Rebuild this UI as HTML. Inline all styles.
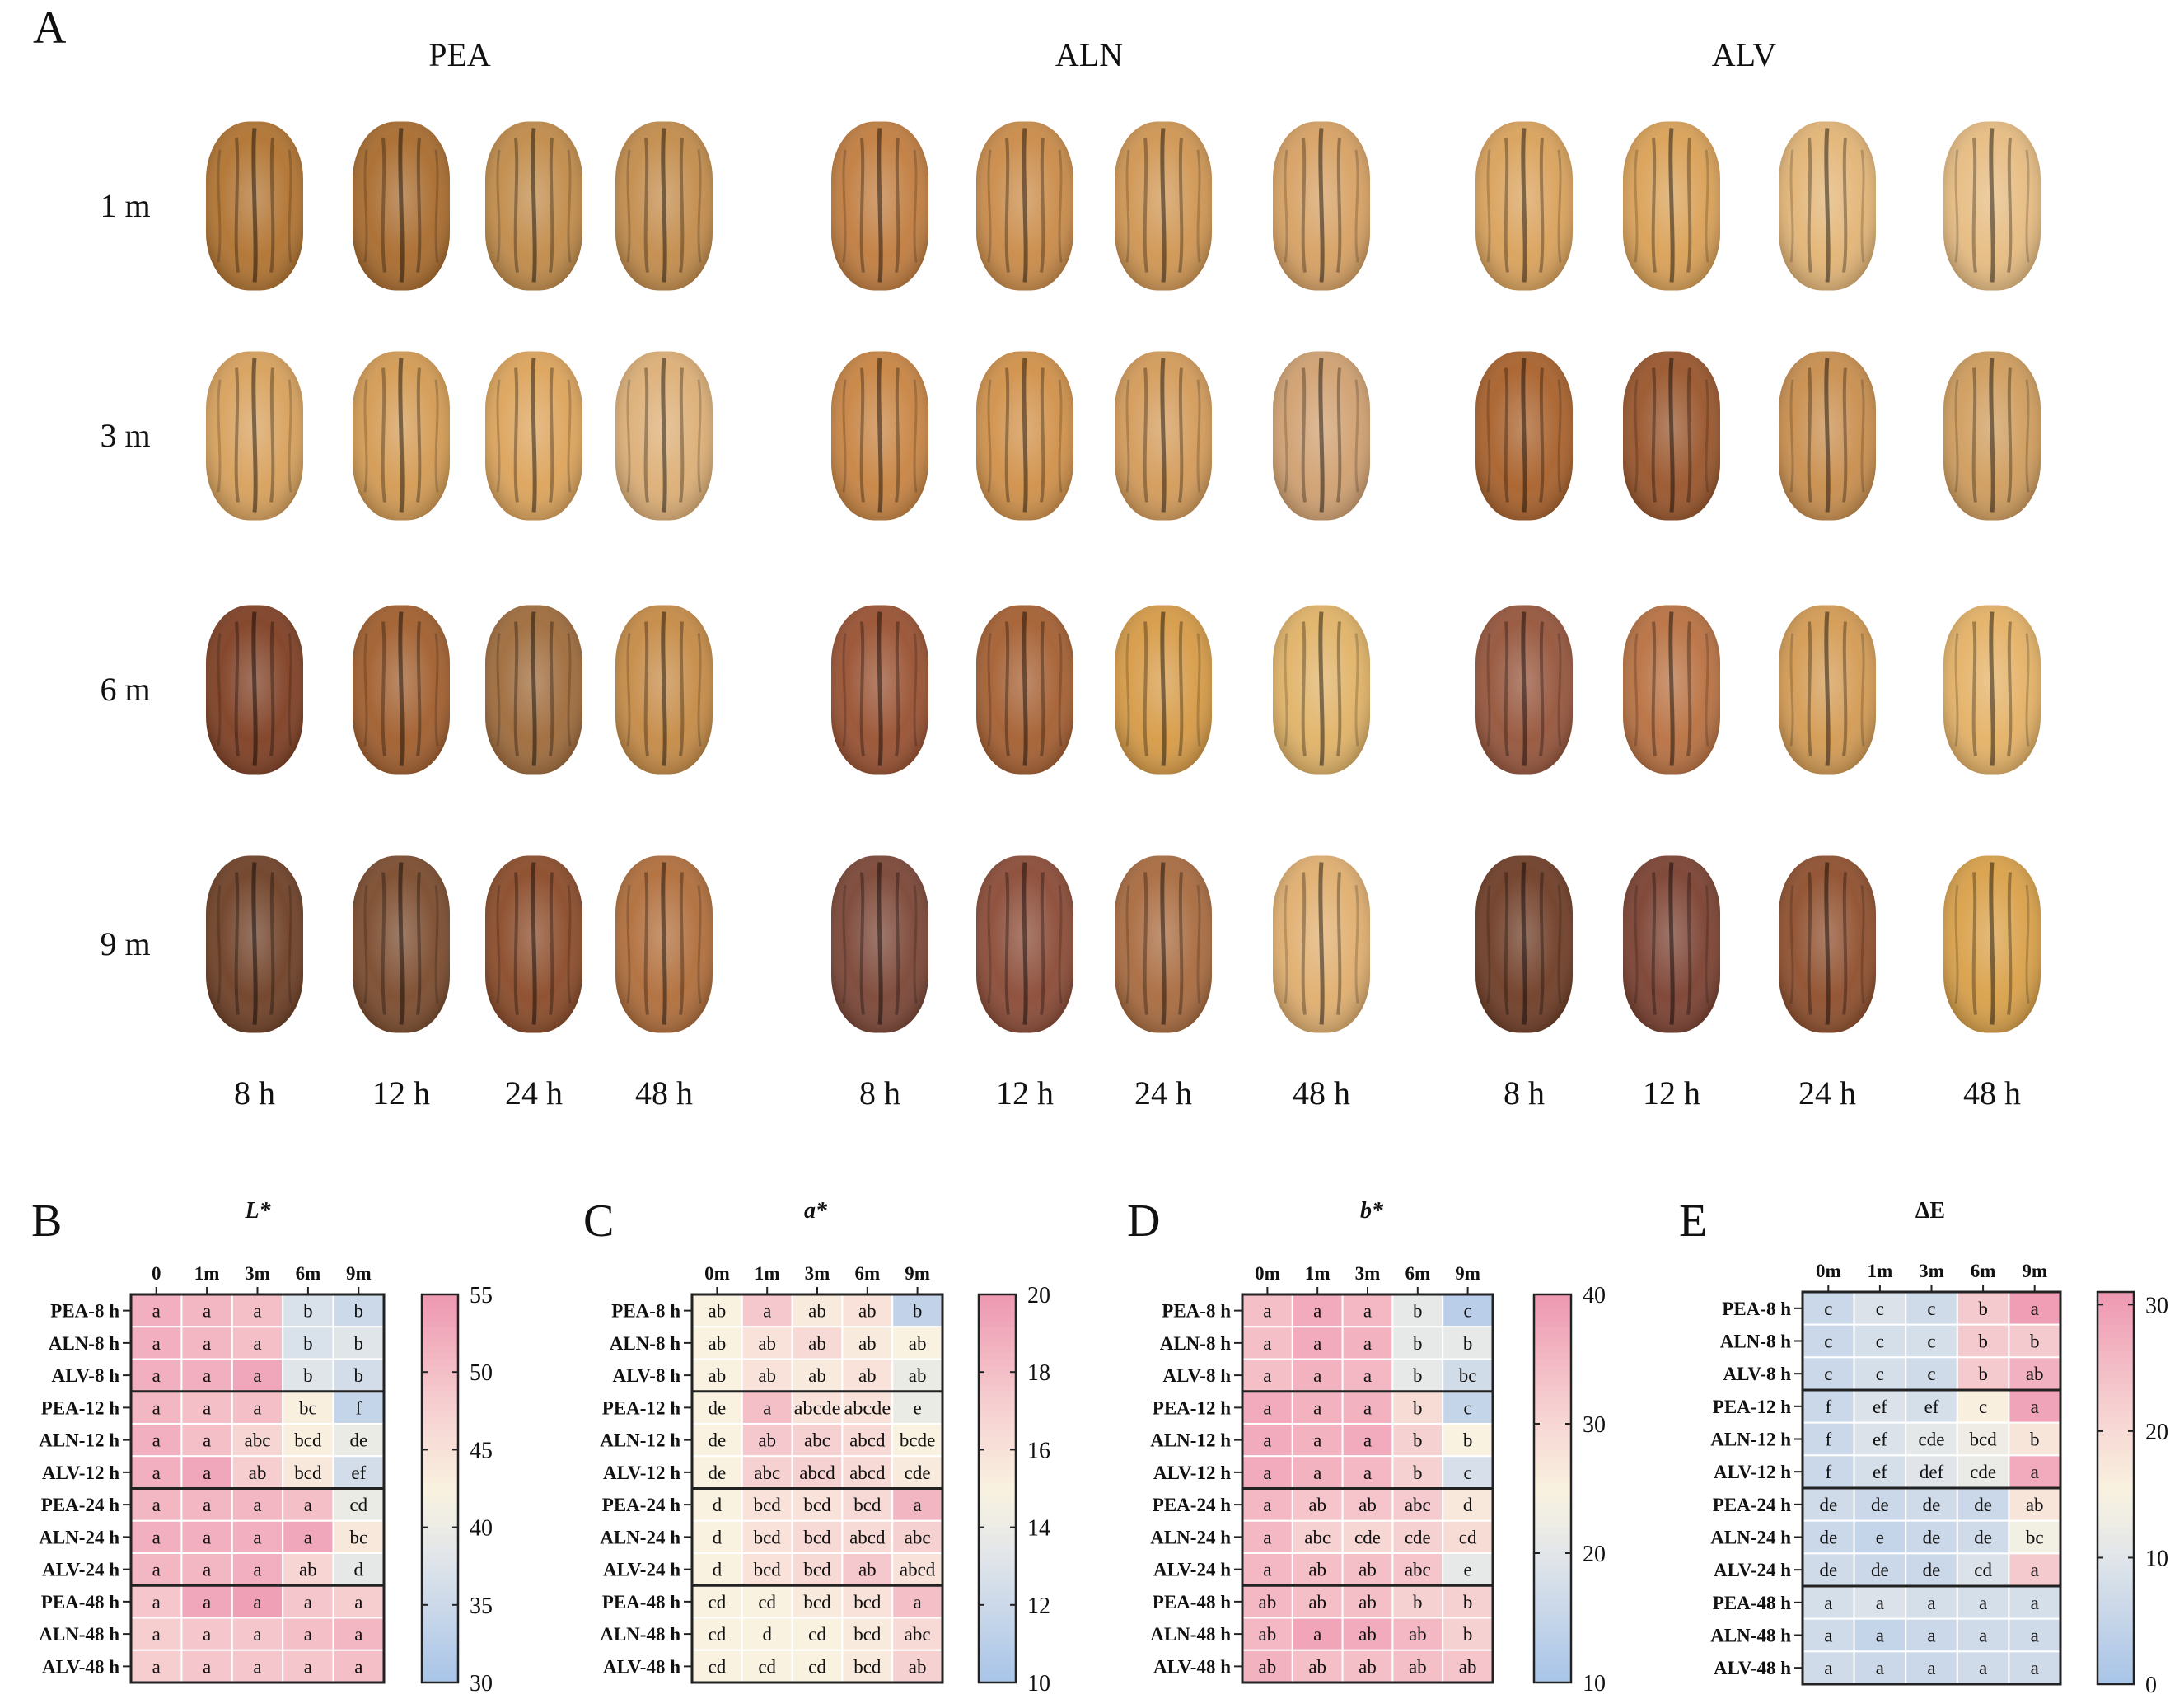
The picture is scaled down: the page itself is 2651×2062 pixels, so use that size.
<!DOCTYPE html>
<html><head><meta charset="utf-8"><style>
html,body{margin:0;padding:0;background:#fff}
svg{display:block}
text{font-family:"Liberation Serif",serif;fill:#111}
</style></head><body>
<svg id="fig" width="2651" height="2062" viewBox="0 0 2651 2062" xmlns="http://www.w3.org/2000/svg">
<defs>
<radialGradient id="shine" cx="50%" cy="45%" r="60%">
<stop offset="0" stop-color="#fff" stop-opacity="0.28"/>
<stop offset="0.6" stop-color="#fff" stop-opacity="0.05"/>
<stop offset="1" stop-color="#000" stop-opacity="0.25"/>
</radialGradient>
</defs>
<g id="panelA"></g>
<g id="heat"></g>
</svg>
<script>
const NS='http://www.w3.org/2000/svg';
const svg=document.getElementById('fig');
const gA=document.getElementById('panelA');
const gH=document.getElementById('heat');
function mk(tag,attrs,parent,txt){const e=document.createElementNS(NS,tag);for(const k in attrs)e.setAttribute(k,attrs[k]);if(txt!==undefined)e.textContent=txt;(parent||svg).appendChild(e);return e;}

// ---------- Panel A ----------
const groups=['PEA','ALN','ALV'];
const groupX=[558,1322,2117];
const storage=['1 m','3 m','6 m','9 m'];
const rowY=[250,529,837,1146];
const hours=['8 h','12 h','24 h','48 h'];
const colX=[309,487,648,806,1068,1244,1412,1604,1850,2029,2218,2418];
const nutColors=[
['#b0722f','#a86a2c','#c08a48','#c28b4a','#c07c3e','#c98a47','#cf9551','#d6a062','#d9a15a','#d9a055','#e2b475','#e6bb80'],
['#d7a05b','#d39a52','#dca35a','#dcae75','#c78341','#d09048','#d39a58','#d0a070','#a8602a','#98542a','#c88d4c','#cf9c5c'],
['#7e3e22','#a05d2c','#9e6a3a','#c58a45','#985030','#a45e30','#d69a45','#e0b266','#95543a','#b87040','#d39a52','#e4b165'],
['#6e3f25','#7a4a2c','#8a4a28','#b06d3a','#7a4535','#8a4a35','#a86a3e','#e0ae6e','#6e3c25','#7a4030','#8e4e2c','#d9a048']];

let t=mk('text',{x:40,y:52,'font-size':56},gA,'A');

groups.forEach((g,i)=>{const e=mk('text',{x:groupX[i],y:80,'font-size':40,'text-anchor':'middle'},gA,g);
});
storage.forEach((s,i)=>{const e=mk('text',{x:152,y:rowY[i]+13,'font-size':40,'text-anchor':'middle'},gA,s);
});
colX.forEach((x,i)=>{const e=mk('text',{x:x,y:1340,'font-size':40,'text-anchor':'middle'},gA,hours[i%4]);
});
rowY.forEach((y,r)=>colX.forEach((x,c)=>{
  const w=118,h=(r===3?215:205);
  const g=mk('g',{transform:`translate(${x},${y})`},gA);
  
  mk('rect',{x:-w/2,y:-h/2,width:w,height:h,rx:52,ry:70,fill:nutColors[r][c]},g);
  mk('rect',{x:-w/2,y:-h/2,width:w,height:h,rx:52,ry:70,fill:'url(#shine)'},g);
  mk('path',{d:`M0 ${-h/2+8} C -4 ${-h/4} 4 ${h/4} 0 ${h/2-10}`,stroke:'#000','stroke-opacity':0.45,'stroke-width':5,fill:'none'},g);
  [-1,1].forEach(s=>{
    mk('path',{d:`M${s*22} ${-h/2+20} C ${s*18} ${-h/5} ${s*26} ${h/5} ${s*20} ${h/2-22}`,stroke:'#000','stroke-opacity':0.3,'stroke-width':4,fill:'none'},g);
    mk('path',{d:`M${s*42} ${-h/3} C ${s*48} ${-h/8} ${s*38} ${h/8} ${s*44} ${h/3}`,stroke:'#000','stroke-opacity':0.18,'stroke-width':3,fill:'none'},g);
  });
}));

// ---------- Heatmaps ----------
const rowLabels=['PEA-8 h','ALN-8 h','ALV-8 h','PEA-12 h','ALN-12 h','ALV-12 h','PEA-24 h','ALN-24 h','ALV-24 h','PEA-48 h','ALN-48 h','ALV-48 h'];
const colsB=['0','1m','3m','6m','9m'];
const colsOther=['0m','1m','3m','6m','9m'];

const valB=[[52,51,50,37,35],[52,51,50,37,38],[52,52,53,38,36],[51,50,50,43,34],[52,50,47,43,40],[52,53,48,44,36],[51,51,51,50,40],[52,52,52,53,44],[51,51,52,47,39],[49,53,54,49,48],[48,49,49,50,51],[48,49,49,49,50]];
const letB=[['a','a','a','b','b'],['a','a','a','b','b'],['a','a','a','b','b'],['a','a','a','bc','f'],['a','a','abc','bcd','de'],['a','a','ab','bcd','ef'],['a','a','a','a','cd'],['a','a','a','a','bc'],['a','a','a','ab','d'],['a','a','a','a','a'],['a','a','a','a','a'],['a','a','a','a','a']];
const ticksB=[30,35,40,45,50,55];

const valC=[[15,17.5,15.5,16,11.5],[15,16,16.5,15.5,15],[15,16,15.5,16,14],[15,18,16,16,14],[15,17.5,17,16.5,15],[15,17,17,16.5,15.5],[15,16,16,16.5,18.5],[15,16,16.5,16.5,17],[15,16,16.5,17.5,16],[15,15,15.5,16,18],[15,15,15,15.5,16.5],[15,15,15,15.5,17]];
const letC=[['ab','a','ab','ab','b'],['ab','ab','ab','ab','ab'],['ab','ab','ab','ab','ab'],['de','a','abcde','abcde','e'],['de','ab','abc','abcd','bcde'],['de','abc','abcd','abcd','cde'],['d','bcd','bcd','bcd','a'],['d','bcd','bcd','abcd','abc'],['d','bcd','bcd','ab','abcd'],['cd','cd','bcd','bcd','a'],['cd','d','cd','bcd','abc'],['cd','cd','cd','bcd','ab']];
const ticksC=[10,12,14,16,18,20];

const valD=[[34,37,35,21,13],[34,37,36,21,21],[34,36,35,21,17],[37,36,36,29,15],[37,36,37,31,25],[37,36,35,31,18],[35,33,33,32,27],[35,31,30,31,29],[35,34,34,33,21],[35,34,34,31,31],[35,38,37,35,31],[36,34,34,34,33]];
const letD=[['a','a','a','b','c'],['a','a','a','b','b'],['a','a','a','b','bc'],['a','a','a','b','c'],['a','a','a','b','b'],['a','a','a','b','c'],['a','ab','ab','abc','d'],['a','abc','cde','cde','cd'],['a','ab','ab','abc','e'],['ab','ab','ab','b','b'],['ab','a','ab','ab','b'],['ab','ab','ab','ab','ab']];
const ticksD=[10,20,30,40];

const valE=[[6,9,7,23,30],[6,8,8,23,23],[6,8,7,23,27],[6,9,8,16,29],[6,9,11,13,18],[6,8,10,12,28],[7,6,7,6,18],[6,5,6,7,14],[7,6,6,9,23],[8,9,8,8,8],[7,5,6,7,7],[7,6,6,7,7]];
const letE=[['c','c','c','b','a'],['c','c','c','b','b'],['c','c','c','b','ab'],['f','ef','ef','c','a'],['f','ef','cde','bcd','b'],['f','ef','def','cde','a'],['de','de','de','de','ab'],['de','e','de','de','bc'],['de','de','de','cd','a'],['a','a','a','a','a'],['a','a','a','a','a'],['a','a','a','a','a']];
const ticksE=[0,10,20,30];

const stops=[[0,[168,196,232]],[0.33,[226,230,234]],[0.5,[249,242,224]],[0.72,[246,206,208]],[1,[238,152,178]]];
function cmap(t){t=Math.max(0,Math.min(1,t));for(let i=1;i<stops.length;i++){if(t<=stops[i][0]){const a=stops[i-1],b=stops[i];const f=(t-a[0])/(b[0]-a[0]);const c=a[1].map((v,k)=>Math.round(v+(b[1][k]-v)*f));return `rgb(${c})`;}}return 'rgb('+stops[4][1]+')';}

function heatmap(o){
  const g=mk('g',{},gH);
  
  const nr=o.vals.length,nc=o.cols.length;
  const cw=(o.x1-o.x0)/nc,ch=(o.y1-o.y0)/nr;
  const xs=j=>o.x0+cw*j, ys=i=>o.y0+ch*i;
  const norm=v=>(v-o.vmin)/(o.vmax-o.vmin);
  let e=mk('text',{x:o.lx,y:1500,'font-size':56},g,o.id.toUpperCase());
  
  e=mk('text',{x:o.tx,y:1478,'font-size':28,'font-weight':'bold','font-style':o.italic?'italic':'normal','text-anchor':'middle'},g,o.title);
  
  for(let i=0;i<nr;i++)for(let j=0;j<nc;j++){
    const r=mk('rect',{x:xs(j),y:ys(i),width:cw,height:ch,fill:cmap(norm(o.vals[i][j])),stroke:'#fff','stroke-width':2},g);
    
    const tx=mk('text',{x:xs(j)+cw/2,y:ys(i)+ch/2+8,'font-size':23,'text-anchor':'middle',textLength:(o.lets[i][j].length>4?cw-4:''),lengthAdjust:'spacingAndGlyphs'},g,o.lets[i][j]);
    if(o.lets[i][j].length<=4)tx.removeAttribute('textLength');
    
  }
  for(let k=3;k<nr;k+=3)mk('line',{x1:o.x0,x2:o.x1,y1:ys(k),y2:ys(k),stroke:'#222','stroke-width':3},g);
  mk('rect',{x:o.x0,y:o.y0,width:o.x1-o.x0,height:o.y1-o.y0,fill:'none',stroke:'#222','stroke-width':3},g);
  for(let j=0;j<nc;j++){
    const cx=xs(j)+cw/2;
    mk('line',{x1:cx,x2:cx,y1:o.y0-9,y2:o.y0,stroke:'#222','stroke-width':2},g);
    e=mk('text',{x:cx,y:o.y0-18,'font-size':23,'font-weight':'bold','text-anchor':'middle'},g,o.cols[j]);
    
  }
  for(let i=0;i<nr;i++){
    const cy=ys(i)+ch/2;
    mk('line',{x1:o.x0-10,x2:o.x0,y1:cy,y2:cy,stroke:'#222','stroke-width':2},g);
    e=mk('text',{x:o.x0-14,y:cy+8,'font-size':23,'font-weight':'bold','text-anchor':'end'},g,rowLabels[i]);
    
  }
  // colorbar
  const cb=mk('g',{},g);
  const N=60,ctop=o.y0,cbot=o.y1;
  const cy=v=>cbot-(v-o.vmin)/(o.vmax-o.vmin)*(cbot-ctop);
  for(let k=0;k<N;k++){const v0=o.vmin+(o.vmax-o.vmin)*k/N,v1=o.vmin+(o.vmax-o.vmin)*(k+1)/N;
    mk('rect',{x:o.cx0,y:cy(v1)-0.5,width:o.cx1-o.cx0,height:cy(v0)-cy(v1)+1,fill:cmap(norm((v0+v1)/2))},cb);}
  mk('rect',{x:o.cx0,y:ctop,width:o.cx1-o.cx0,height:cbot-ctop,fill:'none',stroke:'#222','stroke-width':2.5},cb);
  o.ticks.forEach(v=>{const y=cy(v);
    mk('line',{x1:o.cx0,x2:o.cx0+7,y1:y,y2:y,stroke:'#222','stroke-width':2},cb);
    mk('line',{x1:o.cx1-7,x2:o.cx1,y1:y,y2:y,stroke:'#222','stroke-width':2},cb);
    const tl=mk('text',{x:o.cx1+14,y:y+10,'font-size':28},cb,String(v));
    
  });
}
heatmap({id:'b',title:'L*',italic:true,lx:38,tx:313,x0:159,x1:466,y0:1571,y1:2042,cx0:512,cx1:556,vmin:30,vmax:55,ticks:ticksB,cols:colsB,vals:valB,lets:letB});
heatmap({id:'c',title:'a*',italic:true,lx:708,tx:990,x0:840,x1:1144,y0:1571,y1:2042,cx0:1188,cx1:1233,vmin:10,vmax:20,ticks:ticksC,cols:colsOther,vals:valC,lets:letC});
heatmap({id:'d',title:'b*',italic:true,lx:1368,tx:1665,x0:1508,x1:1812,y0:1571,y1:2042,cx0:1862,cx1:1907,vmin:10,vmax:40,ticks:ticksD,cols:colsOther,vals:valD,lets:letD});
heatmap({id:'e',title:'ΔE',italic:false,lx:2038,tx:2343,x0:2188,x1:2501,y0:1568,y1:2044,cx0:2546,cx1:2590,vmin:0,vmax:31,ticks:ticksE,cols:colsOther,vals:valE,lets:letE});
</script>
</body></html>
